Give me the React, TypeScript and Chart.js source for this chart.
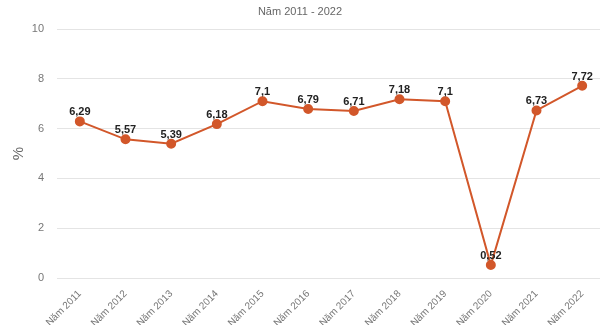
import React, { useEffect, useRef } from "react";
import { Chart, registerables } from "chart.js";

Chart.register(...registerables);

const categories = ["Năm 2011", "Năm 2012", "Năm 2013", "Năm 2014", "Năm 2015", "Năm 2016", "Năm 2017", "Năm 2018", "Năm 2019", "Năm 2020", "Năm 2021", "Năm 2022"];
const values = [6.29, 5.57, 5.39, 6.18, 7.1, 6.79, 6.71, 7.18, 7.1, 0.52, 6.73, 7.72];
const valueLabels = ["6,29", "5,57", "5,39", "6,18", "7,1", "6,79", "6,71", "7,18", "7,1", "0,52", "6,73", "7,72"];
const titleText = "Năm 2011 - 2022";
const yTitle = "%";

const FONT = "'Liberation Sans', Arial, sans-serif";

const labelPlugin = {
  id: "valueLabels",
  afterDatasetsDraw(chart: any) {
    const ctx = chart.ctx;
    const meta = chart.getDatasetMeta(0);
    ctx.save();
    ctx.font = "bold 11px " + FONT;
    ctx.fillStyle = "#222";
    ctx.textAlign = "center";
    ctx.textBaseline = "alphabetic";
    meta.data.forEach((pt: any, i: number) => {
      ctx.fillText(valueLabels[i], pt.x, pt.y - 6);
    });
    ctx.restore();
  },
};

const titlePlugin = {
  id: "pageTitle",
  afterDraw(chart: any) {
    const ctx = chart.ctx;
    ctx.save();
    ctx.font = "11px " + FONT;
    ctx.fillStyle = "#666";
    ctx.textAlign = "center";
    ctx.textBaseline = "middle";
    ctx.fillText(titleText, 300, 12);
    ctx.restore();
  },
};

export default function App() {
  const ref = useRef<HTMLCanvasElement>(null);
  useEffect(() => {
    document.body.style.margin = "0";
    document.body.style.overflow = "hidden";
    const chart = new Chart(ref.current!, {
      type: "line",
      data: {
        labels: categories,
        datasets: [
          {
            data: values,
            borderColor: "#d2572a",
            backgroundColor: "#d2572a",
            borderWidth: 2,
            pointRadius: 4,
            pointHoverRadius: 4,
            tension: 0,
          },
        ],
      },
      options: {
        animation: false,
        responsive: false,
        maintainAspectRatio: false,
        layout: { padding: { top: 29, left: 0, right: 0, bottom: 0 } },
        plugins: {
          legend: { display: false },
          tooltip: { enabled: false },
          title: { display: false },
        },
        scales: {
          x: {
            offset: true,
            grid: { display: false },
            border: { display: false },
            ticks: {
              color: "#777",
              font: { family: FONT, size: 10 },
              maxRotation: 45,
              minRotation: 45,
              padding: 2,
            },
            afterFit(scale: any) {
              scale.height = 47;
            },
          },
          y: {
            min: 0,
            max: 10,
            grid: { color: "#e4e4e4", drawTicks: false },
            border: { display: false },
            ticks: {
              stepSize: 2,
              color: "#777",
              font: { family: FONT, size: 11 },
              padding: 13,
            },
            title: {
              display: true,
              text: yTitle,
              color: "#666",
              font: { family: FONT, size: 15 },
              padding: { top: 10, bottom: 0 },
            },
            afterFit(scale: any) {
              scale.width = 57;
            },
          },
        },
      },
      plugins: [labelPlugin, titlePlugin],
    });
    return () => chart.destroy();
  }, []);
  return (
    <div style={{ width: 611, height: 325 }}>
      <canvas ref={ref} width={611} height={325} style={{ display: "block" }} />
    </div>
  );
}
